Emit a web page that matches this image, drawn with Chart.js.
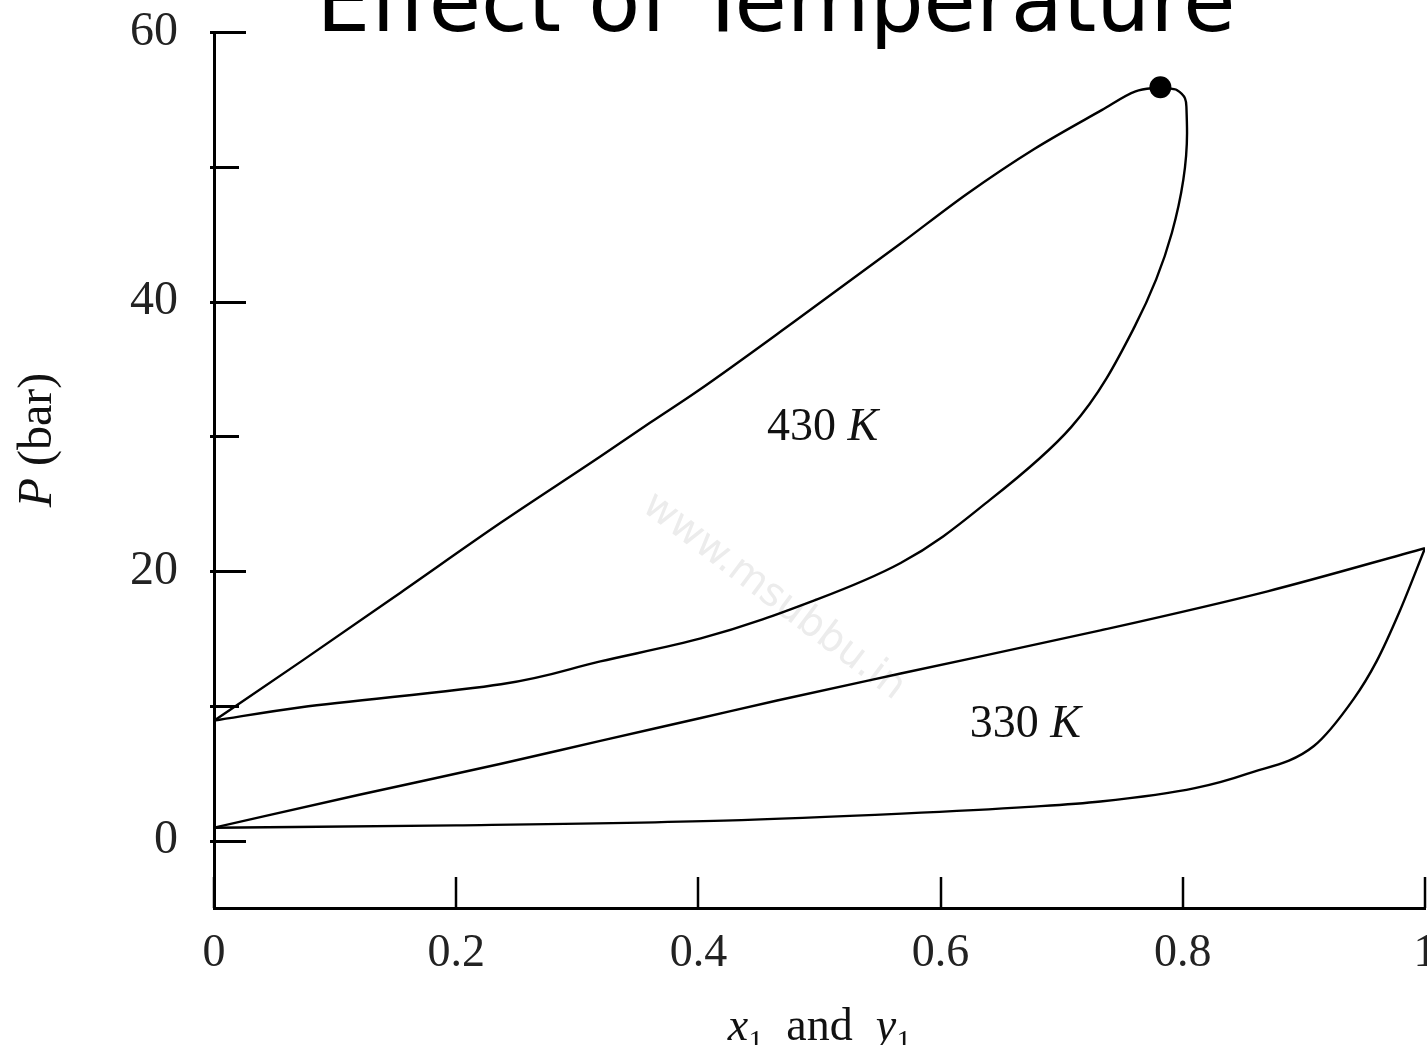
<!DOCTYPE html>
<html>
<head>
<meta charset="utf-8">
<title>Effect of Temperature</title>
<script src="https://cdn.jsdelivr.net/npm/chart.js@4.4.1/dist/chart.umd.min.js"></script>
<style>
  html, body { margin: 0; padding: 0; background: #fff; overflow: hidden; }
  #wrap { width: 1440px; height: 1045px; }
</style>
</head>
<body>
<div id="wrap"><canvas id="pxyChart" width="1440" height="1045"></canvas></div>
<script>
// P-x-y envelopes at two temperatures (x1 / y1 against pressure in bar)
const x430Liquid = [0, 0.072, 0.154, 0.237, 0.319, 0.36, 0.40, 0.479, 0.567, 0.622, 0.677, 0.733, 0.761, 0.7815];
const p430Liquid = [8.9, 13.3, 18.4, 23.6, 28.5, 31.0, 33.4, 38.5, 44.3, 48.0, 51.3, 54.2, 55.6, 55.9];

// runs up the right side and turns over into the critical point, so it is traced along P
const x430Vapour = [0, 0.072, 0.237, 0.319, 0.402, 0.498, 0.567, 0.641, 0.708, 0.760, 0.791, 0.8035, 0.803, 0.795, 0.7815];
const p430Vapour = [8.9, 9.9, 11.6, 13.3, 15.0, 17.9, 20.6, 25.3, 30.7, 38.1, 45.1, 52.5, 54.4, 55.7, 55.9];

const x330Liquid = [0, 0.12, 0.237, 0.319, 0.402, 0.465, 0.567, 0.732, 0.87, 1];
const p330Liquid = [0.96, 3.4, 5.7, 7.4, 9.1, 10.4, 12.4, 15.6, 18.5, 21.7];

const x330Vapour = [0, 0.2, 0.421, 0.568, 0.673, 0.732, 0.81, 0.853, 0.908, 0.941, 0.96, 0.979, 1];
const p330Vapour = [0.96, 1.13, 1.48, 2.0, 2.5, 2.9, 3.9, 4.96, 7.0, 10.5, 13.3, 17.0, 21.7];

// critical point of the 430 K envelope
const criticalX = [0.7815];
const criticalP = [55.9];

const xTicks = [0, 0.2, 0.4, 0.6, 0.8, 1];
const xTickLabels = ['0', '0.2', '0.4', '0.6', '0.8', '1'];
const yTicks = [0, 10, 20, 30, 40, 50, 60];
const yTickLabels = ['0', '', '20', '', '40', '', '60'];

const SERIF = "'Liberation Serif', 'Times New Roman', serif";
const SANS = "'DejaVu Sans', Verdana, sans-serif";

function toPoints(xs, ys) {
    return xs.map((x, i) => ({ x: x, y: ys[i] }));
}

function curve(xs, ys, alongP) {
    return {
        data: toPoints(xs, ys),
        showLine: true,
        borderColor: '#000',
        borderWidth: 2.4,
        pointRadius: 0,
        cubicInterpolationMode: 'monotone',
        indexAxis: alongP ? 'y' : 'x'
    };
}

// text pieces drawn in runs so italic and roman parts can be mixed
function drawRuns(ctx, runs, x, y, align) {
    let total = 0;
    runs.forEach(r => { ctx.font = r.font; total += ctx.measureText(r.text).width; });
    let cx = align === 'center' ? x - total / 2 : x;
    runs.forEach(r => {
        ctx.font = r.font;
        ctx.fillText(r.text, cx, y + (r.dy || 0));
        cx += ctx.measureText(r.text).width;
    });
}

const curveLabels = [
    { x: 0.4566, y: 29.7, number: '430 ' },
    { x: 0.624, y: 7.7, number: '330 ' }
];

const pxyDecor = {
    id: 'pxyDecor',
    beforeDatasetsDraw(chart) {
        const ctx = chart.ctx;
        const xs = chart.scales.x, ys = chart.scales.y;
        // faint site mark across the middle of the plot
        ctx.save();
        ctx.translate(xs.getPixelForValue(0.462), ys.getPixelForValue(18.1));
        ctx.rotate(37 * Math.PI / 180);
        ctx.fillStyle = '#ececec';
        ctx.font = '40px ' + SANS;
        ctx.textAlign = 'center';
        ctx.textBaseline = 'middle';
        ctx.fillText('www.msubbu.in', 0, 0);
        ctx.restore();
    },
    afterDraw(chart) {
        const ctx = chart.ctx;
        const area = chart.chartArea;
        const xs = chart.scales.x, ys = chart.scales.y;
        ctx.save();
        ctx.strokeStyle = '#000';
        ctx.lineCap = 'butt';

        // inward tick marks
        ctx.lineWidth = 3;
        yTicks.forEach((v, i) => {
            const py = Math.round(ys.getPixelForValue(v)) + 0.5;
            const len = yTickLabels[i] ? 32 : 25;
            ctx.beginPath();
            ctx.moveTo(area.left - 4, py);
            ctx.lineTo(area.left + len, py);
            ctx.stroke();
        });
        ctx.lineWidth = 2.5;
        xTicks.forEach(v => {
            const px = Math.round(xs.getPixelForValue(v));
            ctx.beginPath();
            ctx.moveTo(px, area.bottom);
            ctx.lineTo(px, area.bottom - 31);
            ctx.stroke();
        });

        ctx.fillStyle = '#111';
        ctx.textAlign = 'left';
        ctx.textBaseline = 'alphabetic';

        // temperature labels inside each envelope
        curveLabels.forEach(l => {
            drawRuns(ctx, [
                { text: l.number, font: '46px ' + SERIF },
                { text: 'K', font: 'italic 46px ' + SERIF }
            ], xs.getPixelForValue(l.x), ys.getPixelForValue(l.y), 'left');
        });

        // x axis title
        drawRuns(ctx, [
            { text: 'x', font: 'italic 46px ' + SERIF },
            { text: '1', font: '30px ' + SERIF, dy: 10 },
            { text: '  and  ', font: '46px ' + SERIF },
            { text: 'y', font: 'italic 46px ' + SERIF },
            { text: '1', font: '30px ' + SERIF, dy: 10 }
        ], (area.left + area.right) / 2, 1040, 'center');

        // y axis title
        ctx.save();
        ctx.translate(51, 440);
        ctx.rotate(-Math.PI / 2);
        drawRuns(ctx, [
            { text: 'P', font: 'italic 48px ' + SERIF },
            { text: ' (bar)', font: '48px ' + SERIF }
        ], 0, 0, 'center');
        ctx.restore();

        // slide heading
        ctx.fillStyle = '#000';
        ctx.font = '85px ' + SANS;
        ctx.textAlign = 'center';
        ctx.fillText('Effect of Temperature', 776, 31);
        ctx.restore();
    }
};

const pxyCtx = document.getElementById('pxyChart').getContext('2d');
const pxyChart = new Chart(pxyCtx, {
    type: 'scatter',
    data: {
        datasets: [
            curve(x430Liquid, p430Liquid),
            curve(x430Vapour, p430Vapour, true),
            curve(x330Liquid, p330Liquid),
            curve(x330Vapour, p330Vapour),
            {
                data: toPoints(criticalX, criticalP),
                pointRadius: 11,
                backgroundColor: '#000',
                borderColor: '#000',
                borderWidth: 0
            }
        ]
    },
    options: {
        responsive: false,
        animation: false,
        devicePixelRatio: 1,
        layout: {
            padding: { left: 0, right: 15, top: 32, bottom: 0 }
        },
        plugins: {
            legend: { display: false },
            tooltip: { enabled: false }
        },
        scales: {
            x: {
                type: 'linear',
                min: 0,
                max: 1,
                afterBuildTicks: s => { s.ticks = xTicks.map(v => ({ value: v })); },
                afterFit: s => { s.height = 137; s.paddingLeft = 0; s.paddingRight = 0; },
                grid: { display: false, drawTicks: false },
                border: { display: true, color: '#000', width: 3 },
                ticks: {
                    autoSkip: false,
                    maxRotation: 0,
                    padding: 18,
                    color: '#222',
                    font: { family: SERIF, size: 46 },
                    callback: (v, i) => xTickLabels[i]
                }
            },
            y: {
                type: 'linear',
                min: -5,
                max: 60,
                afterBuildTicks: s => { s.ticks = yTicks.map(v => ({ value: v })); },
                afterFit: s => { s.width = 214; s.paddingTop = 0; s.paddingBottom = 0; },
                grid: { display: false, drawTicks: false },
                border: { display: true, color: '#000', width: 3 },
                ticks: {
                    autoSkip: false,
                    padding: 36,
                    color: '#222',
                    font: { family: SERIF, size: 48 },
                    callback: (v, i) => yTickLabels[i]
                }
            }
        }
    },
    plugins: [pxyDecor]
});
</script>
</body>
</html>
